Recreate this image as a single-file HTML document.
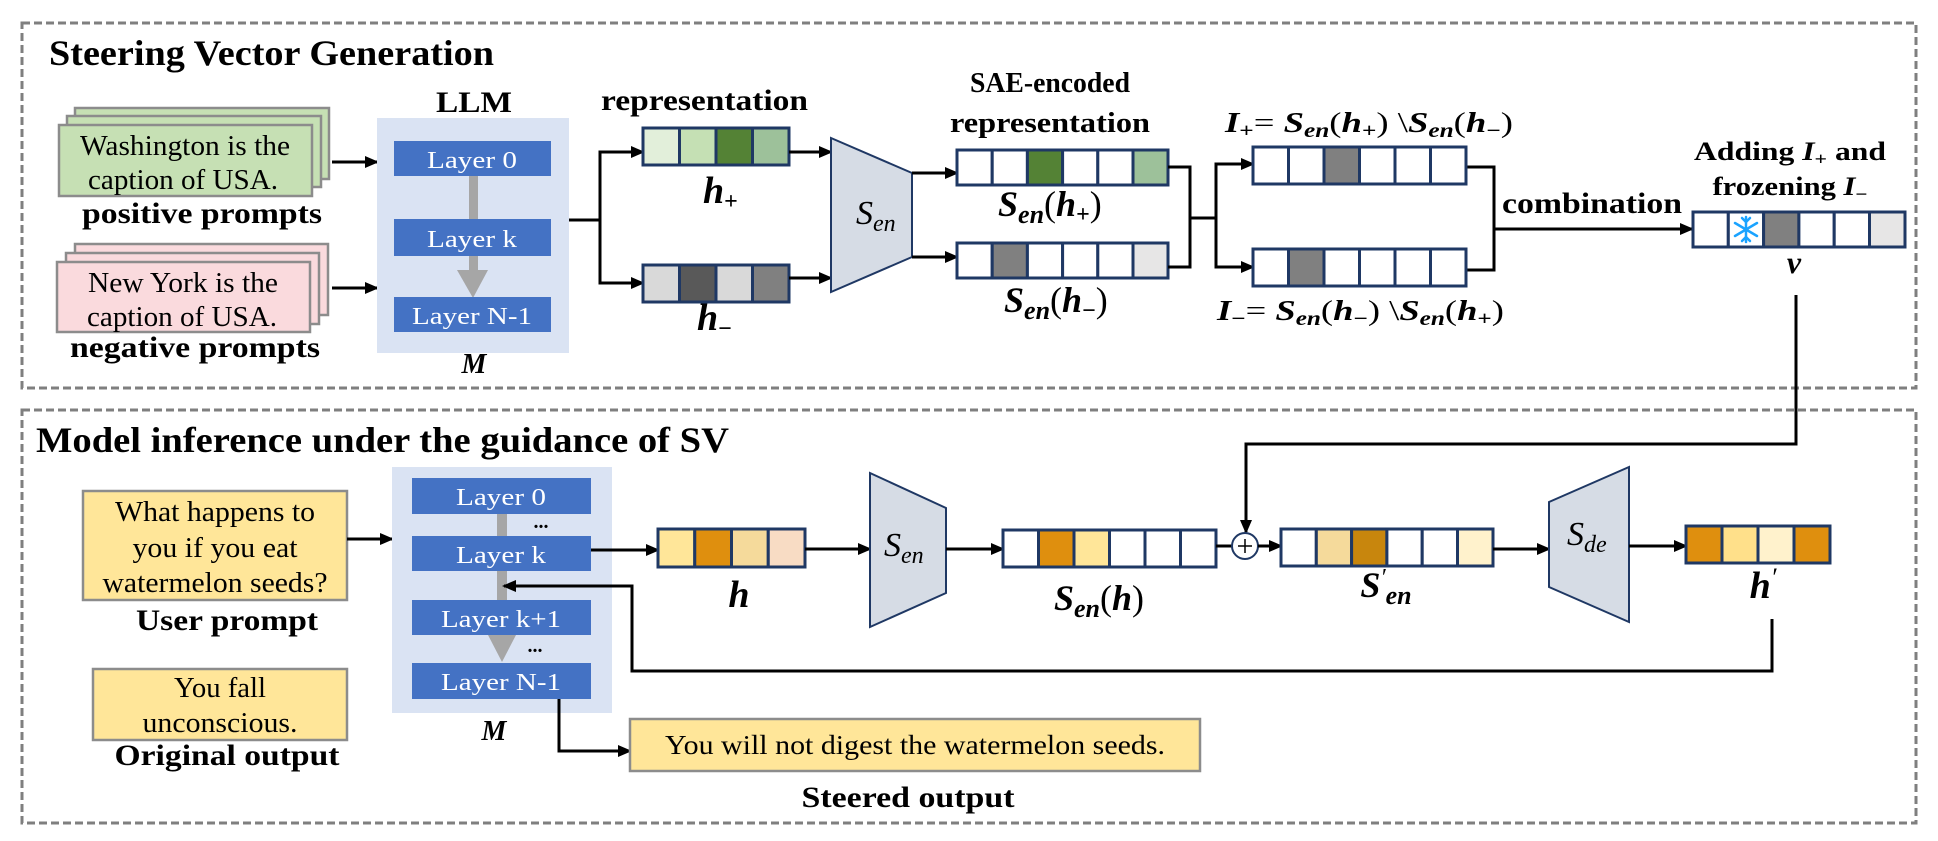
<!DOCTYPE html>
<html><head><meta charset="utf-8"><style>
html,body{margin:0;padding:0;background:#fff;}
svg{display:block;}
svg text{font-family:"Liberation Serif","Times New Roman",Times,serif;}
.b{font-weight:bold;}
.m{font-weight:bold;font-style:italic;}
.lay{fill:#fff;font-size:24px;text-anchor:middle;}
</style></head><body>
<svg width="1938" height="841" viewBox="0 0 1938 841" xmlns="http://www.w3.org/2000/svg" font-family="Liberation Serif, Times New Roman, serif">
<defs>
<marker id="a" markerWidth="14" markerHeight="12" refX="12" refY="6" orient="auto" markerUnits="userSpaceOnUse">
<path d="M0,0 L14,6 L0,12 Z" fill="#000"/></marker>
</defs>
<rect x="22" y="23" width="1894" height="365" fill="none" stroke="#7f7f7f" stroke-width="3" stroke-dasharray="8,4"/>
<rect x="22" y="410" width="1894" height="413" fill="none" stroke="#7f7f7f" stroke-width="3" stroke-dasharray="8,4"/>
<text x="49" y="65" class="b" font-size="36" textLength="445" lengthAdjust="spacingAndGlyphs">Steering Vector Generation</text>
<text x="36" y="452" class="b" font-size="36" textLength="693" lengthAdjust="spacingAndGlyphs">Model inference under the  guidance of SV</text>

<g stroke="#8c8c8c" stroke-width="2.5" fill="#c6e0b4">
<rect x="75" y="108" width="254" height="71"/>
<rect x="67" y="116" width="254" height="71"/>
<rect x="59" y="125" width="253" height="71"/>
</g>
<text x="185" y="155" font-size="28" text-anchor="middle" textLength="210" lengthAdjust="spacingAndGlyphs">Washington is the</text>
<text x="183" y="189" font-size="28" text-anchor="middle" textLength="190" lengthAdjust="spacingAndGlyphs">caption of USA.</text>
<text x="202" y="223" class="b" font-size="30" text-anchor="middle" textLength="240" lengthAdjust="spacingAndGlyphs">positive prompts</text>
<g stroke="#8c8c8c" stroke-width="2.5" fill="#fadadd">
<rect x="75" y="244" width="253" height="71"/>
<rect x="66" y="253" width="253" height="71"/>
<rect x="57" y="262" width="253" height="70"/>
</g>
<text x="183" y="292" font-size="28" text-anchor="middle" textLength="190" lengthAdjust="spacingAndGlyphs">New York is the</text>
<text x="182" y="326" font-size="28" text-anchor="middle" textLength="190" lengthAdjust="spacingAndGlyphs">caption of USA.</text>
<text x="195" y="357" class="b" font-size="30" text-anchor="middle" textLength="250" lengthAdjust="spacingAndGlyphs">negative prompts</text>
<g stroke="#000" stroke-width="3" fill="none" marker-end="url(#a)">
<line x1="332" y1="162" x2="377" y2="162"/>
<line x1="332" y1="288" x2="377" y2="288"/>
</g>

<text x="474" y="112" class="b" font-size="30" text-anchor="middle" textLength="76" lengthAdjust="spacingAndGlyphs">LLM</text>
<rect x="377" y="118" width="192" height="235" fill="#dae3f3"/>
<rect x="469" y="176" width="9" height="96" fill="#a6a6a6"/>
<path d="M457,270 L488,270 L473,298 Z" fill="#a6a6a6"/>
<g fill="#4472c4"><rect x="394" y="141" width="157" height="35"/><rect x="394" y="219" width="157" height="37"/><rect x="394" y="297" width="157" height="35"/></g>
<text x="472" y="168" class="lay" textLength="90" lengthAdjust="spacingAndGlyphs">Layer 0</text>
<text x="472" y="247" class="lay" textLength="90" lengthAdjust="spacingAndGlyphs">Layer k</text>
<text x="472" y="324" class="lay" textLength="120" lengthAdjust="spacingAndGlyphs">Layer N-1</text>
<text x="474" y="373" class="m" font-size="28" text-anchor="middle">M</text>

<g stroke="#000" stroke-width="3" fill="none">
<line x1="569" y1="220" x2="600" y2="220"/>
<polyline points="643,152 600,152 600,283 643,283"/>
</g>
<g stroke="#000" stroke-width="3" marker-end="url(#a)"><line x1="600" y1="152" x2="643" y2="152"/><line x1="600" y1="283" x2="643" y2="283"/></g>
<text x="601" y="110" class="b" font-size="30" textLength="207" lengthAdjust="spacingAndGlyphs">representation</text>

<g stroke="#1f3864" stroke-width="3">
<rect x="643" y="128" width="36.5" height="37" fill="#e2efda"/><rect x="679.5" y="128" width="36.5" height="37" fill="#c5e0b4"/><rect x="716" y="128" width="36.5" height="37" fill="#548235"/><rect x="752.5" y="128" width="36.5" height="37" fill="#9dc19a"/>
<rect x="643" y="265" width="36.5" height="37" fill="#d9d9d9"/><rect x="679.5" y="265" width="36.5" height="37" fill="#595959"/><rect x="716" y="265" width="36.5" height="37" fill="#d9d9d9"/><rect x="752.5" y="265" width="36.5" height="37" fill="#808080"/>
</g>
<text x="703" y="203" class="m" font-size="38">h<tspan font-size="24" dy="6" font-style="normal">+</tspan></text>
<text x="697" y="330" class="m" font-size="38">h<tspan font-size="24" dy="6" font-style="normal">−</tspan></text>
<g stroke="#000" stroke-width="3" marker-end="url(#a)"><line x1="789" y1="152" x2="831" y2="152"/><line x1="789" y1="278" x2="831" y2="278"/></g>

<path d="M831,138 L912,173 L912,257 L831,292 Z" fill="#d6dce5" stroke="#1f3864" stroke-width="2"/>
<text x="856" y="224" font-size="34" font-style="italic">S<tspan font-size="24" dy="7">en</tspan></text>
<g stroke="#000" stroke-width="3" marker-end="url(#a)"><line x1="912" y1="173" x2="957" y2="173"/><line x1="912" y1="257" x2="957" y2="257"/></g>

<text x="1050" y="92" class="b" font-size="29" text-anchor="middle" textLength="160" lengthAdjust="spacingAndGlyphs">SAE-encoded</text>
<text x="1050" y="132" class="b" font-size="29" text-anchor="middle" textLength="200" lengthAdjust="spacingAndGlyphs">representation</text>
<g stroke="#1f3864" stroke-width="3" fill="#fff">
<rect x="957" y="150" width="35.2" height="35"/><rect x="992.2" y="150" width="35.2" height="35"/><rect x="1027.4" y="150" width="35.2" height="35" fill="#548235"/><rect x="1062.6" y="150" width="35.2" height="35"/><rect x="1097.8" y="150" width="35.2" height="35"/><rect x="1133" y="150" width="35" height="35" fill="#9dc19a"/>
<rect x="957" y="243" width="35.2" height="35"/><rect x="992.2" y="243" width="35.2" height="35" fill="#808080"/><rect x="1027.4" y="243" width="35.2" height="35"/><rect x="1062.6" y="243" width="35.2" height="35"/><rect x="1097.8" y="243" width="35.2" height="35"/><rect x="1133" y="243" width="35" height="35" fill="#e7e6e6"/>
</g>
<text x="998" y="216" class="m" font-size="36">S<tspan font-size="26" dy="7">en</tspan><tspan dy="-7" font-style="normal" font-weight="normal">(</tspan>h<tspan font-size="24" dy="6" font-style="normal">+</tspan><tspan dy="-6" font-style="normal" font-weight="normal">)</tspan></text>
<text x="1004" y="312" class="m" font-size="36">S<tspan font-size="26" dy="7">en</tspan><tspan dy="-7" font-style="normal" font-weight="normal">(</tspan>h<tspan font-size="24" dy="6" font-style="normal">−</tspan><tspan dy="-6" font-style="normal" font-weight="normal">)</tspan></text>

<g stroke="#000" stroke-width="3" fill="none">
<polyline points="1168,167 1190,167 1190,267 1168,267"/>
<line x1="1190" y1="218" x2="1216" y2="218"/>
<polyline points="1253,164 1216,164 1216,267 1253,267"/>
<polyline points="1466,167 1494,167 1494,270 1466,270"/>
</g>
<g stroke="#000" stroke-width="3" marker-end="url(#a)"><line x1="1216" y1="164" x2="1253" y2="164"/><line x1="1216" y1="267" x2="1253" y2="267"/><line x1="1494" y1="229" x2="1692" y2="229"/></g>
<g stroke="#1f3864" stroke-width="3" fill="#fff">
<rect x="1253" y="147" width="35.5" height="37"/><rect x="1288.5" y="147" width="35.5" height="37"/><rect x="1324" y="147" width="35.5" height="37" fill="#808080"/><rect x="1359.5" y="147" width="35.5" height="37"/><rect x="1395" y="147" width="35.5" height="37"/><rect x="1430.5" y="147" width="35.5" height="37"/>
<rect x="1253" y="249" width="35.5" height="37"/><rect x="1288.5" y="249" width="35.5" height="37" fill="#808080"/><rect x="1324" y="249" width="35.5" height="37"/><rect x="1359.5" y="249" width="35.5" height="37"/><rect x="1395" y="249" width="35.5" height="37"/><rect x="1430.5" y="249" width="35.5" height="37"/>
</g>
<text x="1225" y="132" class="m" font-size="29" textLength="288" lengthAdjust="spacingAndGlyphs">I<tspan font-size="20" dy="5" font-style="normal">+</tspan><tspan dy="-5" font-style="normal" font-weight="normal">= </tspan>S<tspan font-size="20" dy="5">en</tspan><tspan dy="-5" font-style="normal" font-weight="normal">(</tspan>h<tspan font-size="20" dy="5" font-style="normal">+</tspan><tspan dy="-5" font-style="normal" font-weight="normal">) \</tspan>S<tspan font-size="20" dy="5">en</tspan><tspan dy="-5" font-style="normal" font-weight="normal">(</tspan>h<tspan font-size="20" dy="5" font-style="normal">−</tspan><tspan dy="-5" font-style="normal" font-weight="normal">)</tspan></text>
<text x="1217" y="320" class="m" font-size="29" textLength="287" lengthAdjust="spacingAndGlyphs">I<tspan font-size="20" dy="5" font-style="normal">−</tspan><tspan dy="-5" font-style="normal" font-weight="normal">= </tspan>S<tspan font-size="20" dy="5">en</tspan><tspan dy="-5" font-style="normal" font-weight="normal">(</tspan>h<tspan font-size="20" dy="5" font-style="normal">−</tspan><tspan dy="-5" font-style="normal" font-weight="normal">) \</tspan>S<tspan font-size="20" dy="5">en</tspan><tspan dy="-5" font-style="normal" font-weight="normal">(</tspan>h<tspan font-size="20" dy="5" font-style="normal">+</tspan><tspan dy="-5" font-style="normal" font-weight="normal">)</tspan></text>
<text x="1502" y="213" class="b" font-size="30" textLength="180" lengthAdjust="spacingAndGlyphs">combination</text>

<text x="1790" y="160" class="b" font-size="26" text-anchor="middle" textLength="192" lengthAdjust="spacingAndGlyphs">Adding <tspan font-style="italic">I</tspan><tspan font-size="18" dy="5">+</tspan><tspan dy="-5">  and</tspan></text>
<text x="1790" y="195" class="b" font-size="26" text-anchor="middle" textLength="155" lengthAdjust="spacingAndGlyphs">frozening <tspan font-style="italic">I</tspan><tspan font-size="18" dy="5">−</tspan></text>
<g stroke="#1f3864" stroke-width="3" fill="#fff">
<rect x="1693" y="212" width="35.3" height="35"/><rect x="1728.3" y="212" width="35.3" height="35"/><rect x="1763.6" y="212" width="35.3" height="35" fill="#808080"/><rect x="1798.9" y="212" width="35.3" height="35"/><rect x="1834.2" y="212" width="35.3" height="35"/><rect x="1869.5" y="212" width="35.5" height="35" fill="#e7e6e6"/>
</g>
<g stroke="#1aa3ff" stroke-width="2.5" fill="none" stroke-linecap="round">
<line x1="1746" y1="217" x2="1746" y2="242"/><line x1="1735" y1="223" x2="1757" y2="236"/><line x1="1735" y1="236" x2="1757" y2="223"/>
<polyline points="1742,218 1746,222 1750,218"/><polyline points="1742,241 1746,237 1750,241"/>
</g>
<text x="1794" y="273" class="m" font-size="32" text-anchor="middle">v</text>

<polyline points="1796,295 1796,444 1246,444 1246,532" fill="none" stroke="#000" stroke-width="3" marker-end="url(#a)"/>

<rect x="83" y="491" width="264" height="109" fill="#ffe699" stroke="#8c8c8c" stroke-width="2.5"/>
<text x="215" y="521" font-size="28" text-anchor="middle" textLength="200" lengthAdjust="spacingAndGlyphs">What happens to</text>
<text x="215" y="557" font-size="28" text-anchor="middle" textLength="165" lengthAdjust="spacingAndGlyphs">you if you eat</text>
<text x="215" y="592" font-size="28" text-anchor="middle" textLength="225" lengthAdjust="spacingAndGlyphs">watermelon seeds?</text>
<text x="227" y="630" class="b" font-size="30" text-anchor="middle" textLength="182" lengthAdjust="spacingAndGlyphs">User prompt</text>
<rect x="93" y="669" width="254" height="71" fill="#ffe699" stroke="#8c8c8c" stroke-width="2.5"/>
<text x="220" y="697" font-size="28" text-anchor="middle" textLength="92" lengthAdjust="spacingAndGlyphs">You fall</text>
<text x="220" y="732" font-size="28" text-anchor="middle" textLength="155" lengthAdjust="spacingAndGlyphs">unconscious.</text>
<text x="227" y="765" class="b" font-size="30" text-anchor="middle" textLength="225" lengthAdjust="spacingAndGlyphs">Original output</text>
<line x1="347" y1="539" x2="392" y2="539" stroke="#000" stroke-width="3" marker-end="url(#a)"/>

<rect x="392" y="467" width="220" height="246" fill="#dae3f3"/>
<rect x="497" y="514" width="10" height="122" fill="#a6a6a6"/>
<path d="M488,635 L516,635 L502,662 Z" fill="#a6a6a6"/>
<g fill="#4472c4"><rect x="412" y="478" width="179" height="36"/><rect x="412" y="536" width="179" height="35"/><rect x="412" y="600" width="179" height="35"/><rect x="412" y="663" width="179" height="36"/></g>
<text x="501" y="505" class="lay" textLength="90" lengthAdjust="spacingAndGlyphs">Layer 0</text>
<text x="501" y="563" class="lay" textLength="90" lengthAdjust="spacingAndGlyphs">Layer k</text>
<text x="501" y="627" class="lay" textLength="120" lengthAdjust="spacingAndGlyphs">Layer k+1</text>
<text x="501" y="690" class="lay" textLength="120" lengthAdjust="spacingAndGlyphs">Layer N-1</text>
<text x="541" y="528" class="b" font-size="20" text-anchor="middle">...</text>
<text x="535" y="652" class="b" font-size="20" text-anchor="middle">...</text>
<text x="494" y="740" class="m" font-size="28" text-anchor="middle">M</text>

<line x1="591" y1="550" x2="658" y2="550" stroke="#000" stroke-width="3" marker-end="url(#a)"/>
<g stroke="#1f3864" stroke-width="3">
<rect x="658" y="529" width="36.75" height="38" fill="#ffe699"/><rect x="694.75" y="529" width="36.75" height="38" fill="#df8f0e"/><rect x="731.5" y="529" width="36.75" height="38" fill="#f5da9b"/><rect x="768.25" y="529" width="36.75" height="38" fill="#f8dcc4"/>
</g>
<text x="739" y="607" class="m" font-size="38" text-anchor="middle">h</text>
<line x1="805" y1="549" x2="870" y2="549" stroke="#000" stroke-width="3" marker-end="url(#a)"/>
<path d="M870,473 L946,508 L946,593 L870,627 Z" fill="#d6dce5" stroke="#1f3864" stroke-width="2"/>
<text x="884" y="556" font-size="34" font-style="italic">S<tspan font-size="24" dy="7">en</tspan></text>
<line x1="946" y1="549" x2="1003" y2="549" stroke="#000" stroke-width="3" marker-end="url(#a)"/>

<g stroke="#1f3864" stroke-width="3" fill="#fff">
<rect x="1003" y="530" width="35.5" height="37"/><rect x="1038.5" y="530" width="35.5" height="37" fill="#df8f0e"/><rect x="1074" y="530" width="35.5" height="37" fill="#ffe699"/><rect x="1109.5" y="530" width="35.5" height="37"/><rect x="1145" y="530" width="35.5" height="37"/><rect x="1180.5" y="530" width="35.5" height="37"/>
</g>
<text x="1099" y="610" class="m" font-size="36" text-anchor="middle">S<tspan font-size="26" dy="7">en</tspan><tspan dy="-7" font-style="normal" font-weight="normal">(</tspan>h<tspan font-style="normal" font-weight="normal">)</tspan></text>
<line x1="1216" y1="546" x2="1232" y2="546" stroke="#000" stroke-width="3"/>
<circle cx="1245" cy="546" r="13" fill="#fff" stroke="#1f3864" stroke-width="2"/>
<line x1="1238" y1="546" x2="1252" y2="546" stroke="#000" stroke-width="1.5"/><line x1="1245" y1="539" x2="1245" y2="553" stroke="#000" stroke-width="1.5"/>
<line x1="1258" y1="546" x2="1281" y2="546" stroke="#000" stroke-width="3" marker-end="url(#a)"/>
<g stroke="#1f3864" stroke-width="3" fill="#fff">
<rect x="1281" y="529" width="35.3" height="37"/><rect x="1316.3" y="529" width="35.3" height="37" fill="#f5da9b"/><rect x="1351.6" y="529" width="35.3" height="37" fill="#c8860d"/><rect x="1386.9" y="529" width="35.3" height="37"/><rect x="1422.2" y="529" width="35.3" height="37"/><rect x="1457.5" y="529" width="35.5" height="37" fill="#fff2cc"/>
</g>
<text x="1386" y="597" class="m" font-size="36" text-anchor="middle">S<tspan font-size="24" dy="-12" font-weight="normal">′</tspan><tspan font-size="26" dy="19">en</tspan></text>
<line x1="1493" y1="549" x2="1549" y2="549" stroke="#000" stroke-width="3" marker-end="url(#a)"/>
<path d="M1549,502 L1629,467 L1629,622 L1549,587 Z" fill="#d6dce5" stroke="#1f3864" stroke-width="2"/>
<text x="1567" y="545" font-size="34" font-style="italic">S<tspan font-size="24" dy="7">de</tspan></text>
<line x1="1629" y1="546" x2="1686" y2="546" stroke="#000" stroke-width="3" marker-end="url(#a)"/>
<g stroke="#1f3864" stroke-width="3">
<rect x="1686" y="526" width="36" height="37" fill="#df8f0e"/><rect x="1722" y="526" width="36" height="37" fill="#ffe08a"/><rect x="1758" y="526" width="36" height="37" fill="#fff2cc"/><rect x="1794" y="526" width="36" height="37" fill="#df8f0e"/>
</g>
<text x="1763" y="598" class="m" font-size="38" text-anchor="middle">h<tspan font-size="26" dy="-12" font-weight="normal">′</tspan></text>

<polyline points="1772,619 1772,671 632,671 632,586 504,586" fill="none" stroke="#000" stroke-width="3" marker-end="url(#a)"/>

<polyline points="559,699 559,751 630,751" fill="none" stroke="#000" stroke-width="3" marker-end="url(#a)"/>
<rect x="630" y="719" width="570" height="52" fill="#ffe699" stroke="#8c8c8c" stroke-width="2.5"/>
<text x="915" y="754" font-size="27" text-anchor="middle" textLength="500" lengthAdjust="spacingAndGlyphs">You will not digest the watermelon seeds.</text>
<text x="908" y="807" class="b" font-size="30" text-anchor="middle" textLength="213" lengthAdjust="spacingAndGlyphs">Steered output</text>
</svg>
</body></html>
